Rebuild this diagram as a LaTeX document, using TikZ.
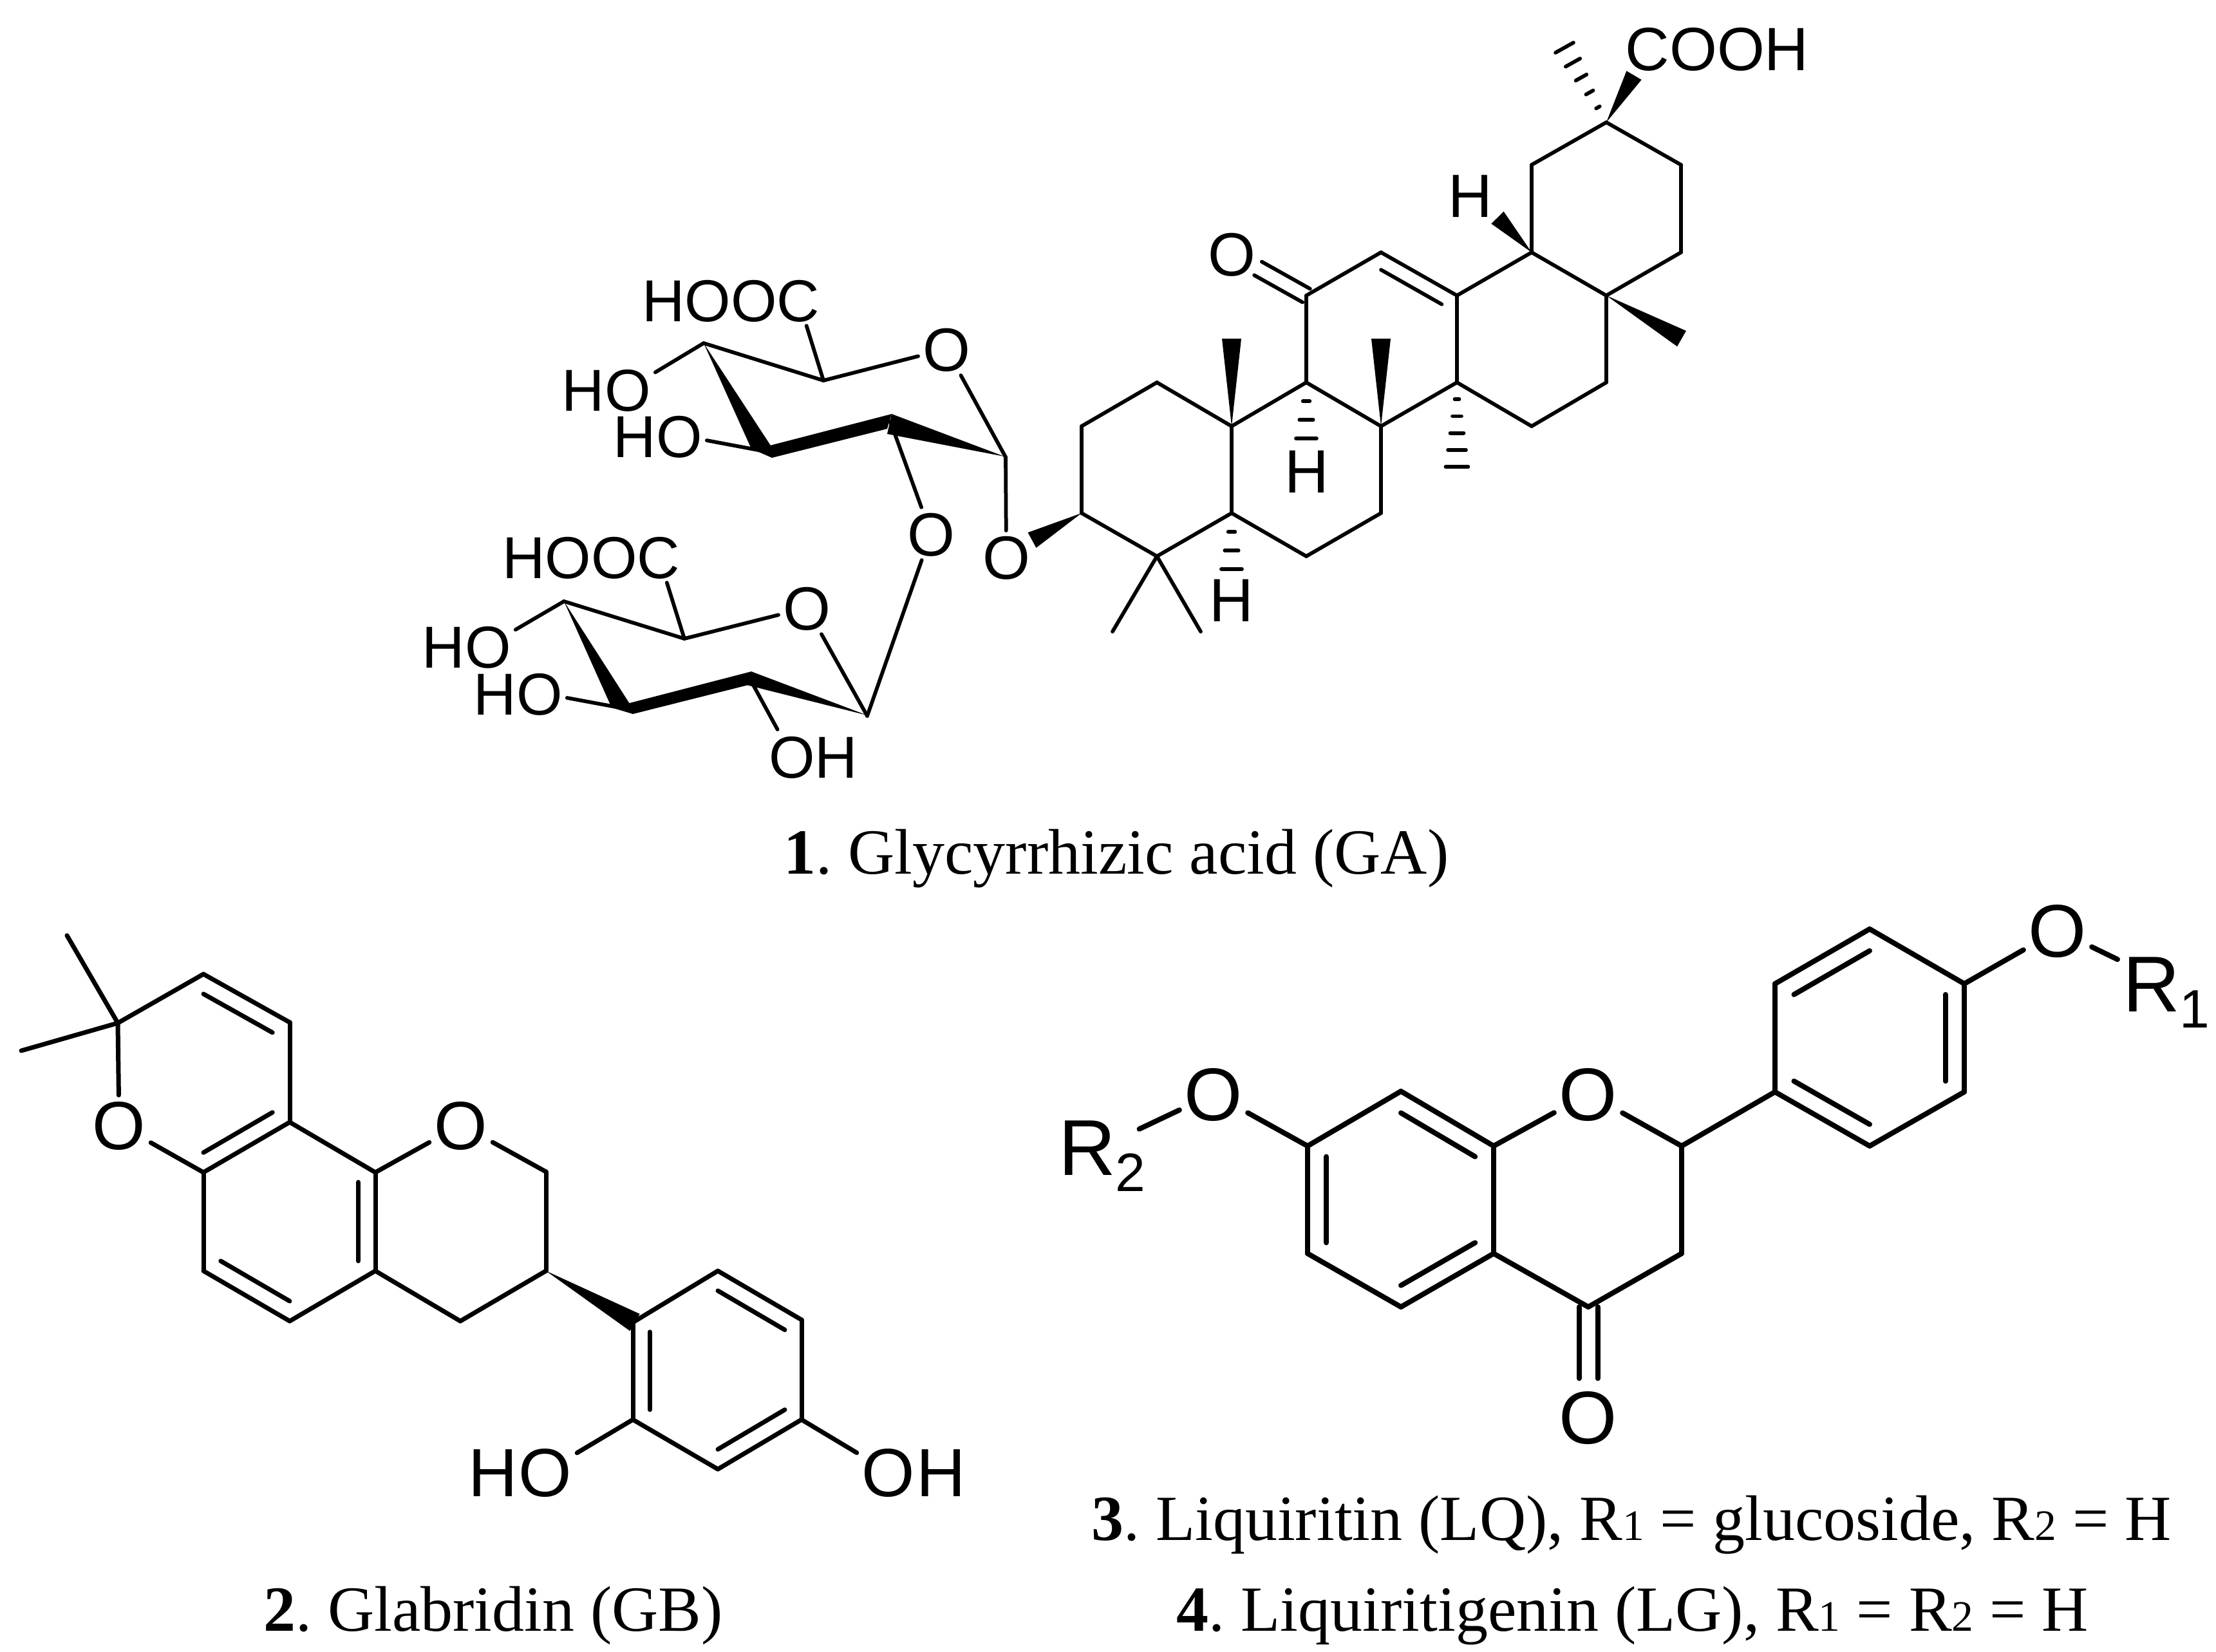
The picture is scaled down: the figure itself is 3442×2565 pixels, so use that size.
\documentclass[tikz,border=0pt]{standalone}
\usepackage{fontspec}
\setmainfont{Liberation Serif}
\setsansfont{Liberation Sans}
\usetikzlibrary{positioning,calc}
\tikzset{
  bond/.style={line width=1.15pt,line cap=round,line join=round},
  bondg/.style={line width=1.4pt,line cap=round,line join=round},
  bondl/.style={line width=1.6pt,line cap=round,line join=round},
  atom/.style={font=\sffamily\fontsize{19}{20}\selectfont,inner sep=1.2pt,text height=13.6pt,text depth=0pt},
  atoms/.style={font=\sffamily\fontsize{18.4}{20}\selectfont,inner sep=1.2pt,text height=13.6pt,text depth=0pt},
  atomg/.style={font=\sffamily\fontsize{21.2}{22}\selectfont,inner sep=1.4pt,text height=15.2pt,text depth=0pt},
  atoml/.style={font=\sffamily\fontsize{23.2}{24}\selectfont,inner sep=1.4pt,text height=16.6pt,text depth=0pt},
  atomr/.style={font=\sffamily\fontsize{24.6}{26}\selectfont,inner sep=1.4pt,text height=17.6pt,text depth=0pt},
  capt/.style={font=\fontsize{20}{21}\selectfont,inner sep=0pt,anchor=base}
}
\newcommand{\wdg}[3]{\fill ($(#2)!#3!90:(#1)$) -- (#1) -- ($(#2)!#3!-90:(#1)$) -- cycle;}
\newcommand{\hashb}[4]{\foreach \i in {1,...,#3}{
  \pgfmathsetmacro{\hfrac}{\i/#3}
  \pgfmathsetmacro{\hw}{#4*\hfrac}
  \draw[bond] ($(#1)!\hfrac!(#2)!\hw pt!90:(#1)$) -- ($(#1)!\hfrac!(#2)!\hw pt!-90:(#1)$);}}
\newcommand{\inbond}[4][bond]{\draw[#1] ($(#2)!.2!(#4)$) -- ($(#3)!.2!(#4)$);}
\newcommand{\cobond}[5][bond]{
  \draw[#1,shorten >=#5] ($(#2)!#4!90:(#3)$) -- ($(#3)!#4!-90:(#2)$);
  \draw[#1,shorten >=#5] ($(#2)!#4!-90:(#3)$) -- ($(#3)!#4!90:(#2)$);}
\newcommand{\capsub}[1]{{\fontsize{13.5}{14}\selectfont #1}}
\newcommand{\rsub}[1]{\raisebox{-5pt}{\fontsize{16.8}{18}\selectfont #1}}
\frenchspacing
\begin{document}
\begin{tikzpicture}[x=0.2pt,y=-0.2pt]
\useasboundingbox (0,0) rectangle (3442,2565);
\foreach \n/\x/\y in {c1/1797/594,c2/1680/662,c3/1680/797,c4/1797/864,c5/1913/797,c6/2029/864,
  c7/2145/797,c8/2145/662,c9/2029/594,c10/1913/662,c11/2029/459,c12/2145/392,c13/2263/459,
  c14/2263/594,c15/2379/662,c16/2495/594,c17/2495/459,c18/2379/392,c19/2379/256,c20/2495/190,
  c21/2611/256,c22/2611/392,rc/2145/527,
  me1/1728/981,me2/1865/981,me3/1913/526,me4/2145/526,me5/2612/526,me6/2263/725,
  me7/2430/74,h5e/1913/884,h9e/2029/681,h18e/2326/338,cooe/2538/117,oge/1603/839}
  \coordinate (\n) at (\x,\y);
\foreach \n/\x/\y in {s1/1562/710,s2/1383/655,s3/1188/701,s4/1093/533,s5/1279/591,
  u1/1347/1112,u2/1164/1053,u3/978/1102,u4/876/934,u5/1063/992}
  \coordinate (\n) at (\x,\y);
\node[atom] (oket) at (1913,394) {O};
\node[atom] (hbeta) at (2284,303) {H};
\node[atom] (h9) at (2030,731) {H};
\node[atom] (h5) at (1913,931) {H};
\node[atom] (cooh) at (2667,75) {COOH};
\node[atom] (oglyc) at (1563,865) {O};
\node[atom] (olink) at (1446,829) {O};
\node[atom] (osa) at (1470,542) {O};
\node[atom] (osb) at (1253,944) {O};
\node[atoms] (csa) at (1240,465) {C};
\node[atoms,left=-2.8pt of csa] (hoosa) {HOO};
\node[atoms] (csb) at (1023,864) {C};
\node[atoms,left=-2.8pt of csb] (hoosb) {HOO};
\node[atoms] (oa4) at (975,604) {O};
\node[atoms,left=-2.8pt of oa4] (ha4) {H};
\node[atoms] (oa3) at (1055,676) {O};
\node[atoms,left=-2.8pt of oa3] (ha3) {H};
\node[atoms] (ob4) at (758,1003) {O};
\node[atoms,left=-2.8pt of ob4] (hb4) {H};
\node[atoms] (ob3) at (838,1076) {O};
\node[atoms,left=-2.8pt of ob3] (hb3) {H};
\node[atoms] (ob2) at (1230,1174) {O};
\node[atoms,right=-2.8pt of ob2] (hb2) {H};
\foreach \a/\b in {c1/c2,c2/c3,c3/c4,c4/c5,c5/c10,c10/c1,c5/c6,c6/c7,c7/c8,c8/c9,c9/c10,
  c9/c11,c11/c12,c12/c13,c13/c14,c14/c8,c14/c15,c15/c16,c16/c17,c17/c18,c18/c19,
  c19/c20,c20/c21,c21/c22,c22/c17,c18/c13,c4/me1,c4/me2,
  s1/osa,osa/s5,s5/s4,s5/csa,s4/oa4,s3/oa3,s2/olink,s1/oglyc,
  u1/osb,osb/u5,u5/u4,u5/csb,u4/ob4,u3/ob3,u2/ob2,olink/u1}
  \draw[bond] (\a) -- (\b);
\inbond{c12}{c13}{rc}
\cobond{c11}{oket}{2.4pt}{9.4pt}
\wdg{c10}{me3}{3pt}
\wdg{c8}{me4}{3pt}
\wdg{c17}{me5}{2.8pt}
\wdg{c18}{h18e}{2.7pt}
\wdg{c20}{cooe}{2.7pt}
\wdg{c3}{oge}{2.7pt}
\hashb{c14}{me6}{5}{3.5}
\hashb{c9}{h9e}{3}{3.2}
\hashb{c5}{h5e}{3}{3.2}
\hashb{c20}{me7}{5}{3.2}
\fill (1385,643) -- (1560,709) -- (1378,674) -- cycle;
\fill (1192,693) -- (1385,643) -- (1378,666) -- (1199,711) -- cycle;
\fill (1093,533) -- (1167,697) -- (1199,711) -- (1197,692) -- cycle;
\fill (1167,1043) -- (1347,1111) -- (1160,1064) -- cycle;
\fill (974,1093) -- (1167,1043) -- (1162,1064) -- (983,1109) -- cycle;
\fill (876,934) -- (950,1099) -- (983,1109) -- (978,1093) -- cycle;
\node[capt] (capa) at (1734,1357) {\textbf{1}. Glycyrrhizic acid (GA)};

\foreach \n/\x/\y in {g1/183/1589,g2/316/1513,g3/450/1588,g4/450/1743,g5/316/1821,g6/316/1974,
  g7/450/2052,g8/583/1974,g9/583/1821,g10/848/1820,g11/848/1974,g12/715/2052,
  gm1/104/1453,gm2/33/1632,ga/983/2054,gb/1115/1974,gc/1245/2050,gd/1245/2205,ge/1115/2282,
  gf/983/2205,grp/316/1667,grb/450/1897,grc/1115/2128,gwe/986/2054}
  \coordinate (\n) at (\x,\y);
\node[atomg] (go1) at (185,1747) {O};
\node[atomg] (go2) at (716,1747) {O};
\node[atomg] (gho) at (847,2286) {O};
\node[atomg,left=-2.8pt of gho] (ghh) {H};
\node[atomg] (goh) at (1380,2286) {O};
\node[atomg,right=-2.8pt of goh] (gohh) {H};
\foreach \a/\b in {g1/gm1,g1/gm2,g1/g2,g2/g3,g3/g4,g4/g5,g1/go1,go1/g5,g5/g6,g6/g7,g7/g8,
  g8/g9,g9/g4,g9/go2,go2/g10,g10/g11,g11/g12,g12/g8,ga/gb,gb/gc,gc/gd,gd/ge,ge/gf,gf/ga,
  gf/gho,gd/goh}
  \draw[bondg] (\a) -- (\b);
\inbond[bondg]{g2}{g3}{grp}
\inbond[bondg]{g4}{g5}{grp}
\inbond[bondg]{g8}{g9}{grb}
\inbond[bondg]{g6}{g7}{grb}
\inbond[bondg]{ga}{gf}{grc}
\inbond[bondg]{gb}{gc}{grc}
\inbond[bondg]{gd}{ge}{grc}
\wdg{g11}{gwe}{3.05pt}
\node[capt] (capb) at (766,2533) {\textbf{2}. Glabridin (GB)};

\foreach \n/\x/\y in {l1/2031/1780,l2/2176/1695,l3/2320/1780,l4/2612/1780,l5/2612/1947,l6/2467/2030,
  l7/2320/1947,l8/2176/2030,l9/2031/1947,p1/2757/1696,p2/2904/1780,p3/3051/1696,p4/3051/1528,
  p5/2904/1443,p6/2757/1528,lra/2176/1863,lrp/2904/1612}
  \coordinate (\n) at (\x,\y);
\node[atoml] (lor) at (1885,1699) {O};
\node[atoml] (lox) at (2467,1699) {O};
\node[atoml] (lok) at (2467,2201) {O};
\node[atoml] (lop) at (3196,1445) {O};
\node[atomr,anchor=base west] (rone) at (3289,1571) {R\rsub{1}};
\node[atomr,anchor=base west] (rtwo) at (1636,1825) {R\rsub{2}};
\foreach \a/\b in {l1/l2,l2/l3,l3/l7,l7/l8,l8/l9,l9/l1,l3/lox,lox/l4,l4/l5,l5/l6,l6/l7,l1/lor,
  l4/p1,p1/p2,p2/p3,p3/p4,p4/p5,p5/p6,p6/p1,p4/lop,lop/rone}
  \draw[bondl] (\a) -- (\b);
\draw[bondl,shorten >=-4pt] (lor) -- (rtwo);
\inbond[bondl]{l1}{l9}{lra}
\inbond[bondl]{l2}{l3}{lra}
\inbond[bondl]{l7}{l8}{lra}
\inbond[bondl]{p1}{p2}{lrp}
\inbond[bondl]{p3}{p4}{lrp}
\inbond[bondl]{p5}{p6}{lrp}
\cobond[bondl]{l6}{lok}{2.9pt}{12pt}
\node[capt] (capc) at (2534,2392) {\textbf{3}. Liquiritin (LQ), R\capsub{1} = glucoside, R\capsub{2} = H};
\node[capt] (capd) at (2536,2533) {\textbf{4}. Liquiritigenin (LG), R\capsub{1} = R\capsub{2} = H};
\end{tikzpicture}
\end{document}
